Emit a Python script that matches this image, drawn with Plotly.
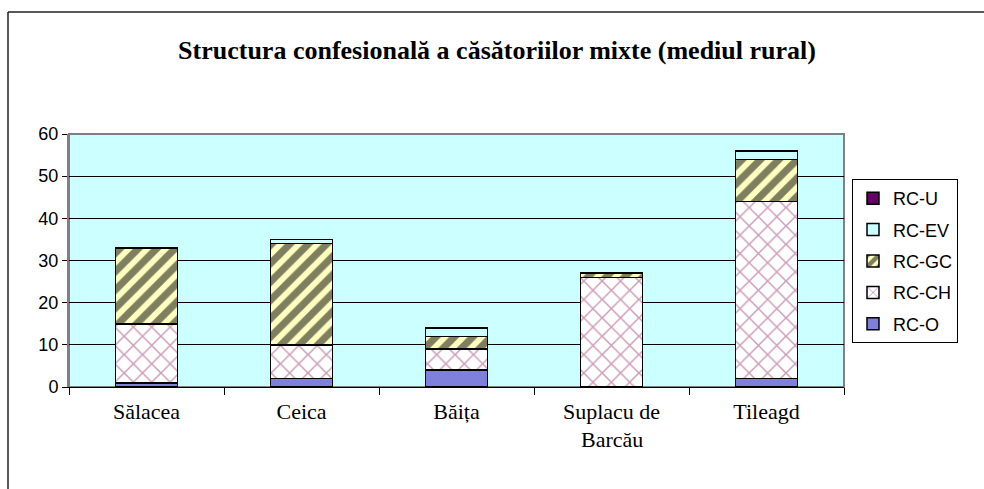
import plotly.graph_objects as go

categories = ["Sălacea", "Ceica", "Băița", "Suplacu de<br> ", "Tileagd"]
second_line = {"Suplacu de<br> ": "Barcău"}
series_names = ["RC-O", "RC-CH", "RC-GC", "RC-EV", "RC-U"]
rc_o = [1, 2, 4, 0, 2]
rc_ch = [14, 8, 5, 26, 42]
rc_gc = [18, 24, 3, 1, 10]
rc_ev = [0, 1, 2, 0, 2]
rc_u = [0, 0, 0, 0, 0]
y_ticks = [0, 10, 20, 30, 40, 50, 60]

values = [rc_o, rc_ch, rc_gc, rc_ev, rc_u]
styles = [
    dict(color="#7F7FDC"),
    dict(color="#FFFFFF", pattern=dict(shape="x", fgcolor="#9E3A70", size=13, solidity=0.22)),
    dict(color="#FFFFC0", pattern=dict(shape="/", fgcolor="#000000", size=13, solidity=0.55)),
    dict(color="#CCFFFF"),
    dict(color="#660066"),
]

fig = go.Figure()
n = len(series_names)
for i, (name, vals, st) in enumerate(zip(series_names, values, styles)):
    marker = dict(st)
    marker["line"] = dict(color="#000000", width=1.5)
    fig.add_trace(go.Bar(
        x=categories, y=vals, name=name, marker=marker,
        legendgroup=name, legendrank=1000 + (n - i),
    ))

W, H = 984, 489
L, R, T, B = 69, 140, 134, 102
pw, ph = W - L - R, H - T - B

def px(x):
    return (x - L) / pw

def py(y):
    return (H - B - y) / ph

fig.update_layout(
    width=W, height=H,
    margin=dict(l=L, r=R, t=T, b=B),
    barmode="stack", bargap=0.6,
    paper_bgcolor="#FFFFFF", plot_bgcolor="#CCFFFF",
    title=dict(text="<b>Structura confesională a căsătoriilor mixte (mediul rural)</b>",
               x=px(497), xref="paper", y=1 - 50 / H, yanchor="middle", xanchor="center",
               font=dict(family="Liberation Serif", size=26, color="#000000")),
    legend=dict(traceorder="grouped", x=px(852), y=py(179), xanchor="left", yanchor="top",
                bordercolor="#000000", borderwidth=1, bgcolor="#FFFFFF",
                font=dict(family="Liberation Sans", size=18, color="#000000"),
                tracegroupgap=5),
    showlegend=True,
    font=dict(family="Liberation Sans", color="#000000"),
)
fig.update_xaxes(
    showline=True, linecolor="#000000", linewidth=1,
    ticks="outside", tickson="boundaries", ticklen=7, tickcolor="#000000",
    tickfont=dict(family="Liberation Serif", size=22, color="#000000"),
    ticklabelstandoff=5,
    showgrid=False,
)
fig.update_yaxes(
    range=[0, 60], tickvals=y_ticks, showgrid=True, gridcolor="#000000", gridwidth=1,
    showline=True, linecolor="#808080", linewidth=2,
    ticks="outside", ticklen=5, tickcolor="#000000",
    tickfont=dict(family="Liberation Sans", size=18, color="#000000"),
    zeroline=False,
)
# plot area border (gray) and outer chart frame
fig.add_shape(type="rect", xref="paper", yref="paper", x0=0, x1=1, y0=0, y1=1,
              line=dict(color="#808080", width=2), layer="below")
fig.add_shape(type="line", xref="paper", yref="paper", x0=px(8), x1=px(984), y0=py(12), y1=py(12),
              line=dict(color="#222222", width=1.5))
fig.add_shape(type="line", xref="paper", yref="paper", x0=px(8), x1=px(8), y0=py(12), y1=py(489),
              line=dict(color="#222222", width=1.5))
for cat, txt in second_line.items():
    fig.add_annotation(x=cat, xref="x", y=0, yref="paper", yanchor="top", yshift=-38,
                       text=txt, showarrow=False,
                       font=dict(family="Liberation Serif", size=22, color="#000000"))

fig.write_html("out.html", config={"displayModeBar": False},
               post_script="document.body.style.margin='0';")
